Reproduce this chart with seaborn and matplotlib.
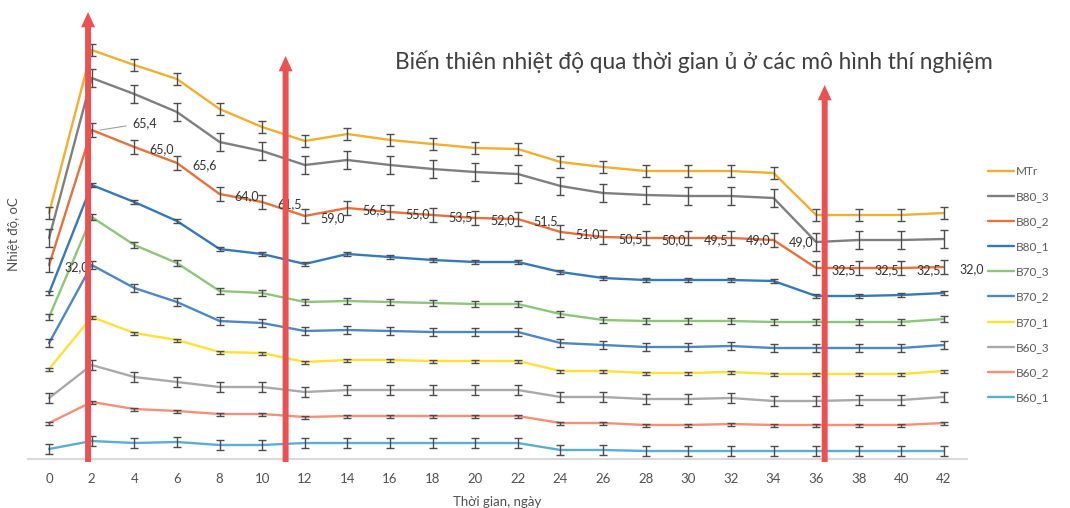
import numpy as np
import pandas as pd
import seaborn as sns
import matplotlib
matplotlib.use("Agg")
import matplotlib.pyplot as plt

# days of composting
days = list(range(0, 43, 2))

# stacked curve heights as drawn (no y scale shown in the source)
MTr   = [246, 409, 394, 380, 350, 332, 318, 325, 319, 315, 311, 310, 297, 292, 288, 288, 288, 286, 244, 244, 244, 246]
B80_3 = [221, 381, 365, 347, 317, 308, 294, 299, 294, 290, 287, 285, 273, 266, 264, 263, 263, 261, 217, 219, 219, 220]
B80_2 = [194, 329, 312, 296, 265, 257, 243, 251, 247, 244, 241, 240, 227, 222, 221, 221, 221, 219, 191, 191, 191, 192]
B80_1 = [166, 274, 257, 238, 210, 205, 195, 205, 202, 199, 197, 197, 187, 181, 179, 179, 179, 178, 163, 163, 164, 166]
B70_3 = [142, 242, 214, 196, 168, 166, 157, 158, 157, 156, 155, 155, 145, 139, 138, 138, 138, 137, 137, 137, 137, 140]
B70_2 = [116, 194, 171, 157, 138, 136, 128, 129, 128, 127, 127, 127, 116, 114, 112, 112, 113, 111, 111, 111, 111, 114]
B70_1 = [90, 142, 126, 119, 107, 106, 97, 99, 99, 98, 98, 98, 88, 88, 86, 86, 87, 85, 85, 85, 85, 88]
B60_3 = [61, 94, 82, 77, 72, 72, 67, 69, 69, 69, 69, 69, 62, 62, 60, 60, 61, 58, 58, 59, 59, 62]
B60_2 = [36, 57, 50, 48, 45, 45, 42, 43, 43, 43, 43, 43, 36, 36, 34, 34, 35, 34, 34, 34, 34, 36]
B60_1 = [10, 18, 16, 17, 14, 14, 16, 16, 16, 16, 16, 16, 9, 9, 8, 8, 8, 8, 8, 8, 8, 8]

series_names = ["MTr", "B80_3", "B80_2", "B80_1", "B70_3", "B70_2", "B70_1", "B60_3", "B60_2", "B60_1"]
series_vals = [MTr, B80_3, B80_2, B80_1, B70_3, B70_2, B70_1, B60_3, B60_2, B60_1]
# error bar half widths per series
errs = [6, 9, 7, 2, 3, 4, 1.5, 5, 1.5, 5]

# data labels on B80_2 (temperature, oC)
b80_2_labels = ["32,0", "65,4", "65,0", "65,6", "64,0", "61,5", "59,0", "56,5", "55,0", "53,5", "52,0",
                "51,5", "51,0", "50,5", "50,0", "49,5", "49,0", "49,0", "32,5", "32,5", "32,5", "32,0"]

# red marker arrows: (day, top of arrow)
arrow_days = [1.83, 11.1, 36.4]
arrow_tops = [447, 403, 374]

colors = {
    "MTr": "#F2AE2E", "B80_3": "#7F7F7F", "B80_2": "#E8703A", "B80_1": "#3579BD",
    "B70_3": "#8DC57A", "B70_2": "#4F86C6", "B70_1": "#FFE135", "B60_3": "#A9A9A9",
    "B60_2": "#F4907A", "B60_1": "#5AAED6",
}

df = pd.DataFrame({
    "day": np.tile(days, len(series_names)),
    "value": np.concatenate(series_vals),
    "series": np.repeat(series_names, len(days)),
})

sns.set_theme(style="white")
plt.rcParams["font.family"] = ["Lato", "DejaVu Sans"]

fig = plt.figure(figsize=(10.70, 5.08), dpi=100)
ax = fig.add_axes([28 / 1070, 1 - 459 / 508, (967 - 28) / 1070, (459 - 10) / 508])

sns.lineplot(data=df, x="day", y="value", hue="series", hue_order=series_names,
             palette=colors, linewidth=1.7, ax=ax, zorder=2)

for name, vals, e in zip(series_names, series_vals, errs):
    ax.errorbar(days, vals, yerr=e, fmt="none", ecolor="#4d4d4d",
                elinewidth=1.0, capsize=3, capthick=1.0, zorder=3)

# data labels for B80_2
for i, (d, v, lab) in enumerate(zip(days, B80_2, b80_2_labels)):
    if i == 1:
        ax.annotate(lab, xy=(d + 0.4, v), xytext=(23, 5), textcoords="offset points",
                    ha="left", va="center", fontsize=9, color="#333333", zorder=4,
                    arrowprops=dict(arrowstyle="-", color="#A0A0A0", lw=0.8, shrinkA=2, shrinkB=0))
    else:
        ax.annotate(lab, xy=(d, v), xytext=(11, -1.5), textcoords="offset points",
                    ha="left", va="center", fontsize=9, color="#333333", zorder=4,
                    annotation_clip=False)

for d, top in zip(arrow_days, arrow_tops):
    ax.annotate("", xy=(d, top), xytext=(d, -3),
                arrowprops=dict(arrowstyle="simple,head_length=11,head_width=10,tail_width=4.3",
                                mutation_scale=1, color="#EC5050", shrinkA=0, shrinkB=0, lw=0),
                annotation_clip=False, zorder=5)

ax.set_xlim(-0.99, 43.08)
ax.set_ylim(0, 449)
ax.set_xticks(days)
ax.set_xticklabels([str(d) for d in days])
ax.set_yticks([])
ax.tick_params(axis="x", length=0, pad=10, labelsize=9.5, labelcolor="#505050")
for s in ["top", "right", "left"]:
    ax.spines[s].set_visible(False)
ax.spines["bottom"].set_color("#D9D9D9")
ax.spines["bottom"].set_linewidth(1.5)
ax.set_xlabel("Thời gian, ngày", fontsize=9.5, color="#505050", labelpad=8)
ax.set_ylabel("Nhiệt độ, oC", fontsize=9.5, color="#505050", labelpad=6)

handles, labels = ax.get_legend_handles_labels()
ax.legend(handles, labels, loc="upper left", bbox_to_anchor=(983 / 1070, 1 - 161 / 508),
          bbox_transform=fig.transFigure, frameon=False, fontsize=8.5, labelcolor="#595959",
          handlelength=2.2, handletextpad=0.2, labelspacing=1.2, borderaxespad=0)

fig.text(395 / 1070, 1 - 62 / 508, "Biến thiên nhiệt độ qua thời gian ủ ở các mô hình thí nghiệm",
         ha="left", va="center", fontsize=16.3, color="#404040")

fig.savefig("out.png", dpi=100)
